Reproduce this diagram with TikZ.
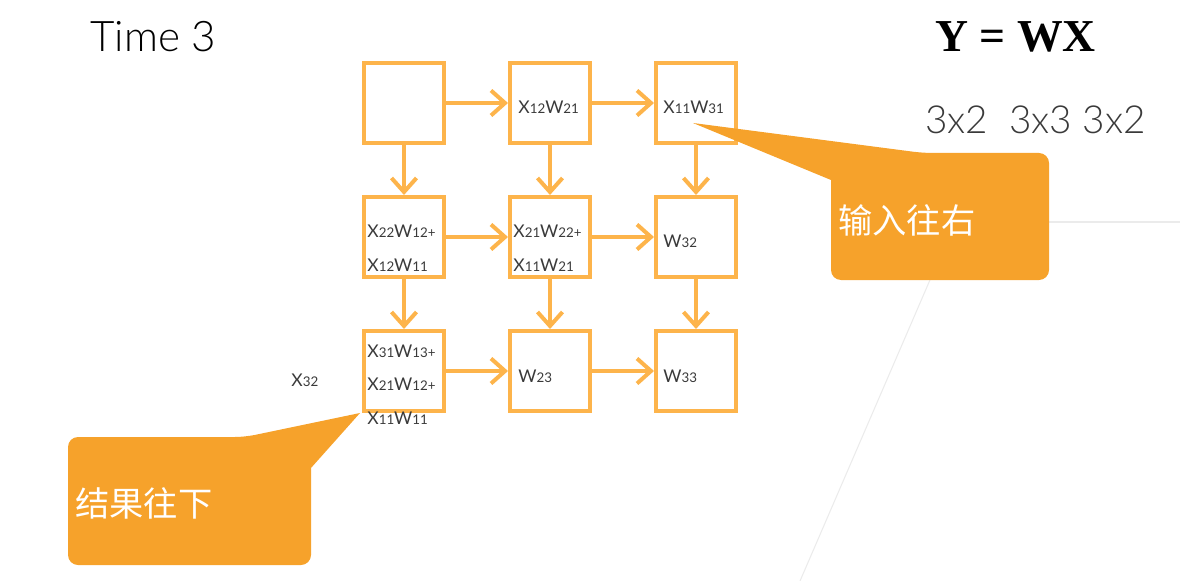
\documentclass[tikz,border=0pt]{standalone}
\usepackage{fontspec}
\usepackage{tikz}
\usepackage{xcolor}
\usetikzlibrary{arrows.meta,calc,positioning}
\setmainfont{Carlito}
\newfontfamily\thinfont{Lato Light}
\newfontfamily\lblfont{Lato}
\newfontfamily\serifbold{Liberation Serif}
\newfontfamily\cjk{Noto Sans CJK SC}
\definecolor{boxorange}{HTML}{FDB44B}
\definecolor{calloutorange}{HTML}{F6A22B}
\definecolor{labelgray}{HTML}{3A3A3A}
\definecolor{linegray}{HTML}{EBEBEB}
\newcommand{\ix}[1]{\raisebox{-0.5pt}{\fontsize{7.6}{9}\selectfont #1}}

\begin{document}
\begin{tikzpicture}[x=0.02cm, y=-0.02cm,
  cell/.style={draw=boxorange, line width=0.08cm, minimum size=1.6cm, inner sep=0pt},
  flow/.style={draw=boxorange, line width=0.08cm, -{Straight Barb[length=0.28cm,width=0.5cm]}},
  lbl/.style={anchor=base west, inner sep=0pt, text=labelgray, font=\lblfont\fontsize{10}{12}\selectfont},
  callouttext/.style={anchor=west, inner sep=0pt, text=white, font=\cjk\fontsize{19.5}{22}\selectfont}]
  \useasboundingbox (0,0) rectangle (1180,581);

  % faint slide lines
  \draw[linegray, line width=0.6pt] (955,222) -- (1180,222);
  \draw[linegray, line width=0.6pt] (955,222) -- (800,581);

  % titles
  \node[anchor=base west, inner sep=0pt, font=\thinfont\fontsize{24}{30}\selectfont, text=black] (title) at (90,52) {Time 3};
  \node[anchor=base west, inner sep=0pt, font=\serifbold\bfseries\fontsize{26}{30}\selectfont] (eq) at (935,52) {Y = WX};
  \node[anchor=base west, inner sep=0pt, font=\thinfont\fontsize{22}{28}\selectfont, text=labelgray] (dims) at (925,133) {3x2\ \ 3x3 3x2};

  % array cells
  \node[cell] (b11) at (404,103) {};
  \node[cell] (b12) at (550,103) {};
  \node[cell] (b13) at (696,103) {};
  \node[cell] (b21) at (404,237) {};
  \node[cell] (b22) at (550,237) {};
  \node[cell] (b23) at (696,237) {};
  \node[cell] (b31) at (404,371) {};
  \node[cell] (b32) at (550,371) {};
  \node[cell] (b33) at (696,371) {};

  % inputs go right
  \draw[flow] (b11) -- (b12);
  \draw[flow] (b12) -- (b13);
  \draw[flow] (b21) -- (b22);
  \draw[flow] (b22) -- (b23);
  \draw[flow] (b31) -- (b32);
  \draw[flow] (b32) -- (b33);
  % results go down
  \draw[flow] (b11) -- (b21);
  \draw[flow] (b21) -- (b31);
  \draw[flow] (b12) -- (b22);
  \draw[flow] (b22) -- (b32);
  \draw[flow] (b13) -- (b23);
  \draw[flow] (b23) -- (b33);

  % cell contents
  \node[lbl] (l12) at (518,113) {X\ix{12}W\ix{21}};
  \node[lbl] (l13) at (663,113) {X\ix{11}W\ix{31}};
  \node[lbl] (l21a) at (367,237) {X\ix{22}W\ix{12+}};
  \node[lbl] (l21b) at (367,271) {X\ix{12}W\ix{11}};
  \node[lbl] (l22a) at (513,237) {X\ix{21}W\ix{22+}};
  \node[lbl] (l22b) at (513,271) {X\ix{11}W\ix{21}};
  \node[lbl] (l23) at (663,247) {W\ix{32}};
  \node[lbl] (l31a) at (367,357) {X\ix{31}W\ix{13+}};
  \node[lbl] (l31b) at (367,390) {X\ix{21}W\ix{12+}};
  \node[lbl] (l31c) at (367,424) {X\ix{11}W\ix{11}};
  \node[lbl] (l32) at (518,382) {W\ix{23}};
  \node[lbl] (l33) at (663,382) {W\ix{33}};
  \node[lbl] (x32) at (291,386) {X\ix{32}};

  % callout: inputs go right
  \coordinate (tipR) at (693,123);
  \fill[calloutorange] (923,153) -- (tipR) -- (831,180)
    [rounded corners=0.2cm] -- (831,280) -- (1049,280) -- (1049,153) -- cycle;
  \node[callouttext] (right) at (838,220) {输入往右};

  % callout: results go down
  \coordinate (tipD) at (360,413);
  \fill[calloutorange] (245,437) -- (tipD) -- (311,468)
    [rounded corners=0.2cm] -- (311,565) -- (68,565) -- (68,437) -- cycle;
  \node[callouttext] (down) at (75,503) {结果往下};
\end{tikzpicture}
\end{document}
